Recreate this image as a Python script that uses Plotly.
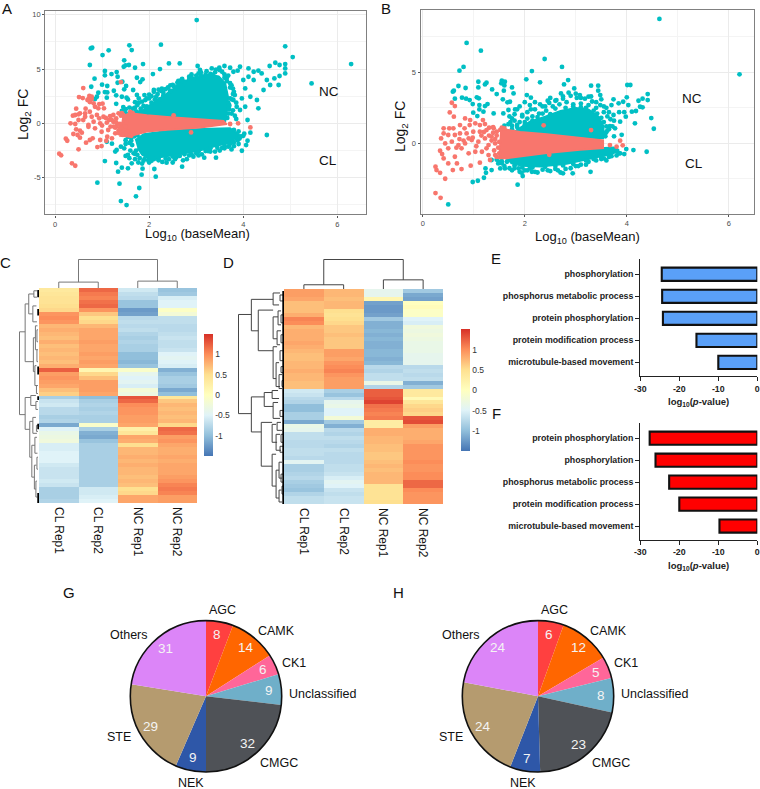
"""Multi-panel figure: MA plots, heatmaps, GO enrichment bars and kinase pies."""

import numpy as np
import plotly.graph_objects as go

W, H = 760, 789
FONT = "Liberation Sans, Arial, sans-serif"
TEAL = "#00BFC4"
SALMON = "#F8766D"

# panel A: dense regions (outlines) and the single points around them
a_teal_up_x = [1.50, 1.62, 1.85, 1.98, 2.16, 2.34, 2.55, 2.77, 3.01, 3.26, 3.48, 3.62, 3.68, 3.66, 3.62, 1.50]
a_teal_up_y = [0.70, 1.00, 1.20, 1.60, 2.10, 2.70, 3.30, 3.90, 4.25, 4.50, 4.35, 3.70, 2.45, 1.23, 0.15, 0.0]
a_teal_lo_x = [1.70, 1.88, 2.38, 3.09, 3.72, 3.92, 3.88, 3.65, 3.37, 3.09, 2.66, 2.30, 1.98, 1.85, 1.75]
a_teal_lo_y = [-1.53, -0.98, -0.67, -0.49, -0.43, -1.07, -1.40, -1.85, -2.15, -2.5, -2.85, -3.10, -3.25, -2.9, -2.3]
a_red_core_x = [1.56, 1.95, 2.38, 3.09, 3.58, 3.65, 3.09, 2.38, 1.95, 1.56, 1.38, 1.45]
a_red_core_y = [0.98, 0.77, 0.61, 0.37, 0.25, -0.09, -0.40, -0.61, -0.77, -1.23, -1.17, 0.77]
a_teal_x = [
    3.01, 0.76, 0.79, 1.01, 1.14, 1.58, 1.63, 2.25, 4.89, 5.05, 6.29, 5.45, 0.74, 1.47, 1.46, 1.50, 1.57, 1.70,
    1.87, 1.06, 1.06, 1.31, 1.20, 1.33, 0.84, 2.08, 2.23, 2.42, 2.65, 1.74, 1.86, 1.81, 1.33, 1.43, 1.00, 1.11,
    1.25, 0.77, 1.51, 1.66, 1.47, 1.06, 1.11, 1.30, 0.92, 0.89, 0.85, 1.10, 1.42, 1.52, 1.74, 1.95, 2.10, 2.27,
    2.52, 2.66, 3.03, 3.08, 3.33, 3.49, 3.60, 3.72, 3.93, 3.79, 3.88, 4.11, 4.22, 4.32, 4.39, 4.56, 4.68, 4.77,
    4.89, 4.89, 4.89, 4.77, 4.66, 4.57, 4.75, 4.50, 4.43, 4.29, 4.32, 4.15, 4.00, 4.04, 4.11, 4.22, 4.04, 3.93,
    4.09, 3.79, 3.86, 3.97, 1.06, 1.30, 1.34, 1.42, 1.55, 1.63, 0.90, 1.37, 1.40, 1.52, 1.72, 1.79, 1.84, 1.86,
    2.11, 2.14, 2.70, 3.42, 4.50, 3.97, 4.06, 4.15, 4.09, 1.10, 1.21, 1.40, 1.31, 1.28, 1.47, 1.50, 1.58, 1.60,
    1.64, 1.67, 1.70, 1.77, 1.50, 1.55, 2.00, 2.20, 2.37, 2.50, 2.55, 2.80, 2.94, 3.17, 3.05, 3.30, 3.50, 3.60,
    3.80, 3.90, 3.75, 1.30, 1.45, 1.55, 1.60, 1.75, 1.90, 2.00, 2.10, 2.25, 2.40, 2.60, 2.70, 2.90, 3.10, 3.50,
    3.65, 3.75, 3.80, 3.85, 3.75, 3.70,
    1.70, 1.78, 1.88, 1.92, 2.05, 2.12, 2.18, 2.30, 2.35, 2.45, 2.50, 2.60, 2.68, 2.75, 2.85, 2.95, 3.05, 3.15,
    3.22, 3.30, 3.42, 3.55, 3.60, 3.68, 3.72, 3.78, 3.82, 3.76, 3.70, 3.78, 3.82, 3.85,
    1.50, 1.58, 1.68, 1.72, 1.85, 1.90, 2.05, 2.15, 2.28, 2.42, 2.58, 2.72, 2.85, 3.00, 3.12, 3.25, 3.40, 3.55,
    3.68, 3.80, 3.92, 4.00, 3.85, 1.62, 1.75,
    1.42, 1.50, 1.58, 1.65, 1.50, 1.62, 1.72, 1.70, 1.82, 1.85, 1.78, 1.95, 2.05, 2.00, 2.15, 2.22, 2.30, 2.20,
    2.45, 2.55, 2.45, 2.65, 2.75, 2.85, 2.62, 2.90, 3.00, 3.10, 3.20, 3.35, 3.40, 3.60, 3.65, 3.72, 3.78, 3.72,
    3.68, 3.70, 3.68, 3.66,
    1.62, 1.70, 1.75, 1.80, 1.88, 1.98, 2.10, 2.20, 2.35, 2.50, 2.65, 2.75, 2.90, 3.05, 3.20, 3.30, 3.45, 3.60,
    3.72, 3.88, 3.95, 4.02, 3.90, 3.80, 3.70, 1.55,
]
a_teal_y = [
    9.51, 6.90, 6.96, 6.29, 6.72, 7.18, 6.75, 7.24, 7.09, 6.10, 5.46, 3.68, 5.37, 5.80, 5.21, 5.34, 5.37, 5.12,
    5.46, 4.82, 4.42, 4.72, 4.54, 4.29, 4.11, 4.54, 5.00, 5.52, 5.52, 4.20, 4.05, 3.80, 3.74, 3.83, 3.56, 3.44,
    3.00, 3.37, 3.44, 3.07, 3.13, 2.88, 2.85, 2.58, 2.82, 2.45, 2.24, 2.36, 2.45, 2.36, 2.61, 2.30, 3.07, 3.20,
    3.44, 3.68, 5.28, 4.91, 5.06, 5.12, 5.28, 5.12, 5.21, 4.75, 4.85, 5.06, 4.75, 4.85, 4.60, 5.28, 5.58, 5.37,
    5.46, 5.06, 4.60, 4.36, 4.14, 3.53, 3.53, 3.99, 3.07, 2.15, 1.38, 2.45, 3.99, 3.22, 4.29, 3.99, 1.53, 1.23,
    0.31, 2.15, 1.53, 2.30, -3.47, -3.65, -4.45, -4.08, -4.14, -3.68, -5.46, -5.55, -7.15, -7.52, -6.72, -5.95,
    -4.72, -4.17, -4.20, -4.91, -3.99, -3.16, -1.07, -2.52, -2.00, -0.86, -1.60, -1.69, -1.87, -2.15, -2.45,
    -2.60, -2.30, -3.00, -3.20, -2.50, -2.00, -2.76, -3.30, -3.60, -1.90, -2.90, -3.60, -3.40, -3.62, -3.60,
    -3.30, -3.30, -3.07, -3.16, -2.95, -2.60, -2.50, -2.30, -2.10, -1.90, -2.40, 1.80, 1.50, 2.20, 1.00, 1.70,
    2.60, 2.30, 2.90, 3.00, 3.30, 3.75, 4.10, 4.50, 4.70, 4.90, 4.20, 3.50, 2.90, 1.90, 0.90, 1.70,
    1.45, 1.90, 1.60, 2.15, 2.50, 2.20, 2.70, 2.55, 3.15, 2.95, 3.55, 3.40, 3.95, 3.60, 4.30, 4.05, 4.60, 4.25,
    4.80, 4.55, 4.95, 4.75, 4.50, 4.40, 3.70, 3.20, 2.60, 2.20, 1.60, 1.20, 0.70, 0.40,
    -1.55, -1.80, -1.20, -2.50, -3.70, -3.30, -3.45, -3.15, -3.55, -3.30, -3.10, -3.40, -2.95, -2.75, -2.85,
    -2.55, -2.60, -2.25, -2.15, -1.75, -1.40, -1.15, -1.00, -1.30, -2.90,
    1.15, 1.30, 1.45, 1.35, 0.95, 0.95, 1.10, 1.95, 1.35, 2.00, 2.30, 1.55, 1.90, 2.65, 2.45, 2.20, 2.85, 3.10,
    3.00, 3.20, 3.50, 3.60, 3.85, 4.05, 3.90, 4.25, 4.40, 4.40, 4.50, 4.45, 4.70, 4.20, 3.90, 3.30, 2.70, 2.30,
    1.90, 1.30, 0.90, 0.50,
    -1.60, -2.80, -1.10, -3.20, -3.45, -3.40, -3.30, -3.25, -3.25, -3.05, -3.00, -2.85, -2.85, -2.60, -2.55,
    -2.30, -2.25, -2.00, -1.85, -1.55, -1.20, -0.95, -0.75, -0.60, -2.05, -1.25,
]
a_red_x = [
    0.60, 0.51, 0.59, 0.73, 0.78, 0.71, 0.78, 0.69, 0.74, 0.82, 0.65, 0.45, 0.53, 0.38, 0.43, 0.50, 0.64, 0.74,
    0.85, 0.92, 0.94, 1.01, 1.04, 0.89, 0.78, 0.64, 0.94, 1.03, 1.17, 1.24, 1.35, 1.40, 1.45, 0.33, 0.43, 0.50,
    0.60, 0.71, 0.82, 0.96, 1.10, 1.24, 1.31, 1.38, 0.45, 0.53, 0.71, 0.85, 0.99, 1.13, 1.28, 1.35, 0.57, 0.53,
    0.39, 0.48, 0.66, 0.74, 0.80, 0.90, 0.99, 0.96, 1.09, 1.11, 1.21, 1.28, 0.23, 0.26, 0.50, 0.09, 0.13, 0.36,
    0.43, 1.40, 2.52, 2.89, 3.89, 4.15, 3.72,
    1.20, 1.25, 1.30, 1.38, 1.42, 1.48, 1.50, 1.52, 1.55, 1.60, 1.65, 1.62, 1.58, 1.50, 1.44, 1.36, 1.30, 1.18,
    1.15, 1.08, 1.00,
]
a_red_y = [
    3.25, 2.42, 2.33, 2.52, 2.45, 2.24, 2.24, 2.15, 1.96, 1.84, 1.35, 1.35, 0.92, 0.71, 0.77, 0.83, 0.92, 1.07,
    1.53, 1.38, 1.78, 1.81, 1.38, 0.77, 0.61, 0.61, 0.46, 0.61, 0.67, 0.77, 0.92, 0.71, 0.77, 0.0, -0.06, 0.31,
    0.31, -0.15, 0.15, 0.0, 0.06, 0.15, -0.25, -0.06, -0.55, -0.67, -0.31, -0.46, -0.77, -0.61, -0.40, -0.67,
    -0.86, -1.32, -0.98, -1.07, -1.78, -1.53, -1.38, -2.18, -2.09, -1.53, -1.60, -1.23, -1.38, -0.92, -1.41,
    -1.60, -2.39, -2.79, -2.94, -3.68, -3.90, 3.80, 0.74, -0.83, 0.0, -0.37, -0.06,
    0.35, -0.30, 0.45, -0.45, 0.95, 0.55, -0.30, 0.10, -0.75, 1.05, 0.95, -1.15, -1.10, -0.95, -1.05, -0.90, 0.10,
    -0.30, 0.30, 0.50, -0.20,
]

# panel B
b_teal_up_x = [1.60, 1.80, 1.90, 2.10, 2.40, 2.70, 3.00, 3.25, 3.45, 3.55, 3.54, 2.43]
b_teal_up_y = [0.70, 0.85, 1.10, 1.55, 1.90, 2.30, 2.50, 2.40, 1.90, 1.20, 0.35, 0.47]
b_teal_lo_x = [1.62, 1.91, 2.43, 3.08, 3.74, 3.85, 3.72, 3.35, 2.82, 2.30, 1.95, 1.72]
b_teal_lo_y = [-1.10, -0.75, -0.59, -0.40, -0.28, -0.47, -0.75, -1.05, -1.45, -1.65, -1.60, -1.40]
b_red_core_x = [1.52, 1.91, 2.43, 3.08, 3.54, 3.54, 3.08, 2.43, 1.91, 1.65, 1.48]
b_red_core_y = [1.06, 0.82, 0.66, 0.42, 0.23, -0.35, -0.47, -0.70, -0.94, -1.06, -1.06]
b_teal_x = [
    4.64, 6.21, 0.86, 1.14, 2.39, 0.80, 0.72, 2.14, 2.73, 2.03, 2.30, 2.85, 2.77, 1.09, 1.25, 1.22, 1.55, 1.61,
    1.54, 1.60, 1.75, 0.70, 0.84, 1.09, 0.61, 0.59, 1.36, 1.59, 1.45, 1.78, 2.97, 3.30, 3.44, 4.01, 4.07, 3.44,
    4.41, 2.04, 2.12, 2.71, 2.86, 3.08, 3.25, 3.48, 3.74, 4.00, 4.23, 4.31, 4.41, 3.93, 3.84, 4.03, 4.26, 4.31,
    4.18, 4.10, 4.48, 4.53, 4.16, 3.98, 3.87, 3.74, 3.67, 3.77, 0.63, 0.77, 0.85, 0.92, 0.98, 1.06, 1.10, 1.11,
    1.22, 1.27, 1.11, 1.19, 1.07, 0.99, 1.57, 1.66, 1.71, 1.39, 1.58, 1.68, 1.81, 1.75, 0.50, 0.98, 1.08, 1.20,
    1.24, 1.23, 1.86, 1.96, 1.94, 2.14, 1.88, 2.75, 2.94, 3.29, 4.39, 4.13, 3.99, 3.87, 1.48, 1.61, 1.35, 1.35,
    1.52, 1.85, 1.95, 2.10, 2.20, 2.40, 2.50, 2.60, 2.75, 3.00, 3.10, 3.30, 3.40, 3.55, 3.65, 3.75, 3.50, 3.70,
    3.85, 3.95, 3.60, 3.75, 3.90, 1.55, 1.75, 2.05, 2.20, 2.50, 2.65, 2.90, 3.05, 3.20, 3.50, 3.65, 3.80, 3.95,
    1.75, 1.80, 1.85, 1.95, 2.00, 2.05, 2.15, 2.20, 2.28, 2.35, 2.42, 2.48, 2.55, 2.62, 2.68, 2.75, 2.82, 2.90,
    2.95, 3.02, 3.10, 3.18, 3.25, 3.32, 3.40, 3.48, 3.55, 3.60, 3.62, 3.68, 3.72, 3.65, 3.58, 1.72, 1.70, 1.80,
    1.90, 2.00, 2.12, 2.30, 2.45,
    1.45, 1.50, 1.60, 1.70, 1.80, 1.90, 2.00, 2.10, 2.25, 2.35, 2.45, 2.60, 2.70, 2.80, 3.00, 3.10, 3.25, 3.40,
    3.55, 3.70, 3.85, 3.60, 3.80,
    1.60, 1.68, 1.75, 1.85, 1.90, 2.00, 2.05, 2.15, 2.25, 2.35, 2.50, 2.60, 2.80, 2.95, 3.10, 3.20, 3.35, 3.42,
    3.50, 3.55, 3.60, 3.62, 3.58,
    1.55, 1.65, 1.80, 1.95, 2.15, 2.40, 2.60, 2.75, 2.95, 3.20, 3.35, 3.50, 3.65, 3.80,
]
b_teal_y = [
    8.76, 4.86, 7.07, 6.53, 5.94, 5.38, 5.12, 5.09, 5.38, 4.51, 4.30, 4.46, 4.15, 4.34, 4.27, 4.15, 4.41, 4.34,
    4.23, 4.08, 3.94, 4.04, 3.90, 3.94, 3.71, 3.64, 3.80, 3.71, 3.47, 3.52, 3.87, 4.06, 4.06, 4.11, 4.11, 3.71,
    3.47, 3.40, 3.22, 3.52, 3.57, 3.40, 3.29, 3.40, 3.10, 3.24, 3.00, 3.15, 3.05, 2.93, 2.82, 2.70, 2.58, 2.54,
    2.28, 2.23, 1.78, 1.03, 1.41, 1.88, 1.53, 2.00, 1.22, 1.06, 3.15, 3.22, 3.15, 3.05, 2.77, 3.24, 3.17, 2.70,
    2.63, 2.77, 2.39, 2.23, 1.92, 2.16, 3.10, 2.89, 2.93, 2.11, 2.11, 2.35, 2.39, 1.76, -4.30, -2.72, -2.63,
    -2.42, -2.07, -1.76, -2.91, -2.30, -2.07, -2.00, -1.76, -2.11, -2.11, -2.00, -0.59, -0.47, -0.40, -0.70,
    -1.41, -1.76, -1.88, -1.17, -1.76, 2.40, 2.00, 2.70, 2.90, 2.60, 3.20, 3.00, 3.30, 3.50, 3.20, 3.30, 2.90,
    2.60, 2.20, 1.60, 3.10, 2.70, 2.20, 2.20, 0.80, 0.50, 0.60, -1.40, -1.90, -1.90, -2.00, -1.95, -1.90, -1.75,
    -1.60, -1.50, -1.10, -0.95, -0.85, -0.75,
    1.00, 1.60, 1.30, 1.90, 1.50, 2.20, 1.90, 2.40, 2.10, 2.60, 2.30, 2.85, 2.60, 3.05, 2.75, 3.15, 2.90, 3.35,
    2.75, 3.20, 2.80, 3.15, 2.70, 2.95, 2.50, 2.70, 2.20, 2.50, 1.90, 1.70, 1.20, 1.00, 0.70, 1.50, 1.90, 2.05,
    2.60, 2.90, 2.40, 2.75, 3.00,
    -1.15, -1.30, -1.60, -1.75, -1.55, -2.00, -1.90, -1.75, -2.05, -1.85, -1.90, -1.80, -2.05, -1.80, -1.60,
    -1.50, -1.30, -1.20, -1.05, -0.90, -0.70, -1.20, -0.55,
    1.25, 1.35, 1.25, 1.15, 1.50, 1.30, 1.75, 1.60, 1.85, 2.10, 2.05, 2.45, 2.50, 2.60, 2.55, 2.50, 2.30, 2.10,
    1.80, 1.50, 1.20, 0.90, 0.50,
    -1.25, -1.30, -1.75, -1.70, -1.70, -1.65, -1.60, -1.55, -1.45, -1.20, -1.10, -0.95, -0.75, -0.50,
]
b_red_x = [
    0.57, 0.63, 0.53, 0.83, 0.93, 1.18, 0.61, 0.73, 0.82, 0.92, 1.03, 1.12, 1.22, 0.60, 0.52, 0.41, 0.36, 0.41,
    0.50, 0.63, 0.73, 0.86, 0.99, 1.12, 1.25, 1.39, 1.45, 0.44, 0.57, 0.70, 0.83, 0.96, 1.09, 1.22, 1.35, 1.42,
    1.29, 0.34, 0.38, 0.50, 0.63, 0.76, 0.90, 1.03, 1.16, 1.29, 1.42, 0.41, 0.50, 0.67, 0.94, 1.12, 1.32, 0.25,
    0.27, 0.34, 0.44, 0.25, 0.35, 0.59, 0.76, 2.37, 3.30, 2.48, 3.87, 3.92, 3.80, 3.67,
    1.38, 1.42, 1.45, 1.48, 1.50, 1.52, 1.40, 1.35, 1.30, 1.25, 1.45, 1.50, 1.38, 1.30, 1.20, 1.15, 1.05, 0.98,
    0.90, 0.80, 0.72, 0.66, 1.55, 1.60,
]
b_red_y = [
    2.86, 2.63, 2.18, 1.76, 1.64, 1.64, 1.88, 1.29, 1.06, 1.29, 1.41, 1.29, 1.36, 1.06, 1.06, 1.06, 0.35, 0.70,
    0.59, 0.59, 0.70, 0.70, 0.82, 0.82, 0.94, 1.06, 0.82, 0.0, 0.12, -0.12, 0.0, 0.23, 0.12, 0.35, 0.47, 0.0,
    -0.12, -0.52, -0.75, -0.35, -0.94, -0.35, -0.70, -0.59, -0.59, -0.82, -0.82, -1.06, -1.41, -1.41, -1.57,
    -1.36, -1.17, -1.64, -1.88, -2.07, -2.49, -3.50, -3.83, -1.88, -1.81, 1.27, 0.94, -0.80, 0.19, -0.14, -0.23,
    -0.12,
    0.75, 0.30, 0.55, -0.30, -0.70, 0.95, -0.50, 0.20, 0.55, -0.35, -0.95, 0.10, 1.15, 1.10, 0.80, 0.55, -0.20,
    0.40, 0.35, 0.20, 0.30, -0.30, 1.10, 1.05,
]

# heatmaps: one list per sample, rows top to bottom
samples = ["CL Rep1", "CL Rep2", "NC Rep1", "NC Rep2"]
c_cl1 = [.35, .4, .45, .45, .5, .55, .95, 1.0, .95, .75, .8, .75, .7, .8, .7, .75, .7, .75, .7, .8, 1.25, .9, .95, .9, .85, .7, .6,
         -.85, -.65, -.6, -.75, -.75, -.85, -.8, -1.15, -.5, -.35, -.3, -.25, -.55, -.55, -.5, -.5, -.5, -.6, -.65, -.65, -.65, -.6, -.65, -.85, -.85, -.85, -.8]
c_cl2 = [1.2, 1.1, 1.05, 1.15, 1.2, .95, .65, .5, .55, .75, .85, .85, .85, .9, .85, .85, .9, .85, .9, .85, .15, .55, .7, .9, .9, .9, .85,
         -1.0, -.85, -.8, -.85, -.8, -.85, -.85, -.1, -.85, -1.1, -1.15, -.95, -.85, -.85, -.85, -.85, -.85, -.85, -.85, -.85, -.85, -.85, -.85, -.6, -.6, -.55, -.5]
c_nc1 = [-.6, -.7, -.75, -.95, -.95, -1.25, -1.2, -.75, -.7, -.75, -.7, -.8, -.85, -.8, -.85, -.85, -1.0, -1.0, -1.05, -.95, -.1, -.4, -.5, -.45, -.55, -.2, -.3,
         1.3, 1.2, 1.0, .95, .95, .9, .9, .85, .25, .4, .85, .8, .5, .75, .75, .8, .75, .8, .75, .75, .7, .75, .7, .5, .55, .85, .85]
c_nc2 = [-.95, -.9, -.55, -.5, -.5, -.05, -.2, -.7, -.7, -.75, -.75, -.7, -.65, -.7, -.7, -.65, -.5, -.45, -.5, -.55, -1.1, -.95, -.85, -.85, -.9, -1.15, -1.0,
         .4, .65, .75, .7, .75, .7, .75, .55, 1.2, 1.15, .9, .95, .85, .8, .8, .85, .8, .85, .85, .85, .9, .95, 1.05, 1.1, 1.05, .9, .9]
d_cl1 = [.9, .9, .85, .7, .7, .7, .8, 1.05, 1.0, .75, .8, .8, .8, .85, .8, .75, .7, .7, .75, .75, .8, .75, .75, .7, .7,
         -.6, -.65, -.75, -.8, -1.0, -1.0, -.85, -.85, -1.15, -.35, -.4, -.7, -.7, -.75, -.75, -.7, -.7, -.75, -.45, -.85, -.85, -.8, -.75, -.85, -.9, -.95, -.8, -.7, -.7]
d_cl2 = [.75, .75, .7, .75, .75, .5, .45, .5, .55, .65, .65, .7, .65, .65, .65, .9, .9, .85, .95, 1.0, 1.05, .95, .9, .9, .9,
         -.85, -.95, -.75, -.4, -.35, -.5, -.5, -.2, -.9, -1.1, -.75, -.8, -.7, -.75, -.8, -.7, -.75, -.75, -.75, -.7, -.7, -.65, -.55, -.45, -.5, -.65, -.7, -.65, -.65]
d_nc1 = [-.4, -.4, .15, -1.2, -1.25, -1.25, -1.2, -.9, -1.1, -1.1, -1.05, -1.1, -1.05, -1.1, -1.1, -1.05, -1.05, -1.1, -1.05, -.75, -.8, -.7, -.7, -.35, -.8,
         1.25, 1.25, 1.3, 1.4, 1.15, 1.1, 1.05, 1.1, .3, .3, .8, .8, .75, .75, .7, .7, .65, .65, .7, .75, .7, .75, .75, .75, .45, .45, .45, .45, .5]
d_nc2 = [-.9, -1.15, -1.2, 0.0, .05, -.05, -.05, -.5, -.55, -.25, -.3, -.25, -.3, -.35, -.35, -.35, -.4, -.4, -.4, -.75, -.7, -.75, -.7, -1.1, -.9,
         .35, .35, .1, .4, .55, .6, .55, 1.3, 1.35, .9, .8, .8, .8, .85, .95, .95, .95, .95, 1.0, .95, .95, 1.0, 1.0, 1.2, 1.2, 1.0, .95, .95, .95]

# row dendrograms: (height, top row, bottom row, top child height, bottom child height)
c_tree = [
    (19, 10.5, 31.3, 13.5, 13.5), (13.5, 3.5, 18, 10, 5.5), (13.5, 27, 35, 8, 9), (10, 1, 6, 5, 6), (5, .2, 1.8, 2, 2),
    (6, 4, 8, 2.5, 2), (5.5, 12, 20.5, 3.5, 4), (3.5, 9, 15, 1.5, 2), (4, 19, 24, 2.5, 2), (8, 26.5, 29, 3, 3),
    (9, 33, 42, 6, 7), (6, 32, 36, 3, 2), (7, 39, 47, 4, 4.5), (4.5, 44, 50, 2.5, 3), (3, 48, 52, 2, 1.5), (4, 37, 41, 2, 1.5),
    (2.5, 24, 26, 1, 1), (2, 15, 18, 1, 1), (2, 10, 13, 1, 1), (3, 28, 30, 1, 1), (2.5, 34, 35.5, 1, 1), (2, 42, 45, 1, 1),
]
d_tree = [
    (46, 5.9, 30.8, 33, 33), (33, 2.1, 10, 11, 26), (33, 26.6, 35.4, 20, 23), (11, .5, 3.5, 4, 5), (26, 4.8, 15, 11, 11),
    (11, 6.5, 12, 6, 7), (11, 14, 22, 7, 8), (7, 10, 13.5, 3, 4), (8, 18, 24, 5, 4), (6, 5, 8.5, 3, 3), (5, 21, 24.5, 2, 2),
    (20, 25.5, 29, 12, 11), (12, 25, 27, 6, 5), (11, 28, 32, 6, 4), (23, 33, 44, 12, 12), (12, 33.5, 38, 8, 7), (12, 41, 49, 8, 8),
    (8, 36, 40, 4, 3), (8, 45, 52, 5, 5), (5, 50, 53, 2.5, 2), (5, 43, 47, 2, 2), (7, 33, 35, 3, 2),
    (4, 1, 2.5, 1, 1), (3, 6, 8, 1, 1), (3, 11, 13, 1, 1), (4, 15, 17.5, 1, 1), (3, 19, 20.5, 1, 1), (2, 22.5, 24, 1, 1),
    (4, 30, 31.5, 1, 1), (3, 36, 38, 1, 1), (4, 39, 40.5, 1, 1), (3, 46, 48, 1, 1), (2, 49, 51, 1, 1),
]
# black bands of tightly packed leaves next to the heatmap (top row, bottom row)
c_leaf_bands = [(0, 1.8), (4.8, 6.4), (19.2, 21.2), (26.7, 27.6), (33.6, 35), (51, 53.5)]
d_leaf_bands = [(0, 53.5)]

# enrichment bars
e_terms = ["phosphorylation", "phosphorus metabolic process", "protein phosphorylation", "protein modification process", "microtubule-based movement"]
e_values = [-24.5, -24.4, -24.2, -15.6, -10.0]
f_terms = ["protein phosphorylation", "phosphorylation", "phosphorus metabolic process", "protein modification process", "microtubule-based movement"]
f_values = [-27.6, -26.1, -22.6, -20.0, -9.7]

# kinase family pies
families = ["AGC", "CAMK", "CK1", "Unclassified", "CMGC", "NEK", "STE", "Others"]
family_colors = ["#FF4040", "#FF6600", "#FF6699", "#6FAFC9", "#4F5257", "#2E57A8", "#B59B6F", "#DC85F8"]
g_counts = [8, 14, 6, 9, 32, 9, 29, 31]
h_counts = [6, 12, 5, 8, 23, 7, 24, 24]

HEAT_SCALE = [
    [0, "#4575B4"], [1 / 6, "#91BFDB"], [2 / 6, "#E0F3F8"], [0.5, "#FFFFBF"],
    [4 / 6, "#FEE090"], [5 / 6, "#FC8D59"], [1, "#D73027"],
]


def dom_x(p0, p1):
    return [p0 / W, p1 / W]


def dom_y(p0, p1):
    return [1 - p1 / H, 1 - p0 / H]


def label(text, x, y, size=13, color="#111", angle=0, anchor="center"):
    return dict(
        text=text, x=x / W, y=1 - y / H, xref="paper", yref="paper", showarrow=False,
        xanchor=anchor, yanchor="middle", textangle=angle, font=dict(size=size, color=color, family=FONT),
    )


def ma_axis(domain, rng, ticks, minor, anchor):
    return dict(
        domain=domain, range=rng, anchor=anchor, tickvals=ticks, ticktext=[str(t) for t in ticks], showgrid=True,
        gridcolor="#EBEBEB", gridwidth=1, minor=dict(dtick=minor, showgrid=True, gridcolor="#F4F4F4", gridwidth=0.7),
        zeroline=False, showline=True, mirror=True, linecolor="#808080", linewidth=1.4, ticks="outside", ticklen=2,
        tickwidth=0.7, tickcolor="#555", tickfont=dict(size=7.5, color="#4D4D4D", family=FONT),
    )


def add_ma(fig, xa, ya, up, lo, core, teal, red):
    for poly, color in ((up, TEAL), (lo, TEAL)):
        fig.add_trace(go.Scatter(x=poly[0], y=poly[1], xaxis=xa, yaxis=ya, mode="lines", fill="toself",
                                 fillcolor=color, line=dict(width=1.5, color=color)))
    fig.add_trace(go.Scatter(x=teal[0], y=teal[1], xaxis=xa, yaxis=ya, mode="markers",
                             marker=dict(size=4.8, color=TEAL, line=dict(width=0))))
    fig.add_trace(go.Scatter(x=core[0], y=core[1], xaxis=xa, yaxis=ya, mode="lines", fill="toself",
                             fillcolor=SALMON, line=dict(width=1.5, color=SALMON)))
    fig.add_trace(go.Scatter(x=red[0], y=red[1], xaxis=xa, yaxis=ya, mode="markers",
                             marker=dict(size=4.8, color=SALMON, line=dict(width=0))))


def add_heat(fig, n, columns, tree, bands, col_tree, color, cbar_x, cbar_top, cbar_len):
    """n is the first of three axis numbers: heatmap, column tree, row tree."""
    fig.add_trace(go.Heatmap(
        z=np.array(columns).T, x=[0, 1, 2, 3], xaxis=f"x{n}", yaxis=f"y{n}", zmin=-1.5, zmax=1.5, colorscale=HEAT_SCALE,
        colorbar=dict(
            x=cbar_x / W, xanchor="left", xpad=0, ypad=0, y=1 - cbar_top / H, yanchor="top", len=cbar_len / H, thickness=9,
            outlinewidth=0, tickvals=[1, .5, 0, -.5, -1], ticktext=["1", "0.5", "0", "-0.5", "-1"], ticks="",
            tickfont=dict(size=8.5, color="#333", family=FONT),
        ),
    ))
    # column tree
    cx, cy = [], []
    for x0, x1, h, h0, h1 in col_tree:
        cx += [x0, x0, x1, x1, None]
        cy += [h0, h, h, h1, None]
    fig.add_trace(go.Scatter(x=cx, y=cy, xaxis=f"x{n + 1}", yaxis=f"y{n + 1}", mode="lines", line=dict(color=color, width=1)))
    # row tree
    rx, ry = [], []
    for h, top, bot, h_top, h_bot in tree:
        rx += [h_top, h, h, h_bot, None]
        ry += [top, top, bot, bot, None]
    fig.add_trace(go.Scatter(x=rx, y=ry, xaxis=f"x{n + 2}", yaxis=f"y{n + 2}", mode="lines", line=dict(color=color, width=1)))
    lx, ly = [], []
    for top, bot in bands:
        lx += [0.8, 0.8, None]
        ly += [top, bot, None]
    fig.add_trace(go.Scatter(x=lx, y=ly, xaxis=f"x{n + 2}", yaxis=f"y{n + 2}", mode="lines", line=dict(color="#000", width=1.8)))


def heat_axes(n, hx, hy, col_top, row_left, col_height, row_width):
    axes = {}
    off = dict(showgrid=False, zeroline=False, showticklabels=False, ticks="", showline=False)
    axes[f"xaxis{n}"] = dict(
        domain=dom_x(*hx), anchor=f"y{n}", range=[-.5, 3.5], tickvals=[0, 1, 2, 3], ticktext=samples, tickangle=90,
        ticks="", ticklabelstandoff=3, showgrid=False, zeroline=False, tickfont=dict(size=12, color="#111", family=FONT),
    )
    axes[f"yaxis{n}"] = dict(domain=dom_y(*hy), anchor=f"x{n}", range=[53.5, -.5], **off)
    axes[f"xaxis{n + 1}"] = dict(domain=dom_x(*hx), anchor=f"y{n + 1}", range=[-.5, 3.5], **off)
    axes[f"yaxis{n + 1}"] = dict(domain=dom_y(col_top, hy[0]), anchor=f"x{n + 1}", range=[0, col_height], **off)
    axes[f"xaxis{n + 2}"] = dict(domain=dom_x(row_left, hx[0]), anchor=f"y{n + 2}", range=[row_width, 0], **off)
    axes[f"yaxis{n + 2}"] = dict(domain=dom_y(*hy), anchor=f"x{n + 2}", range=[53.5, -.5], **off)
    return axes


def bar_axes(n, y_top, y_bottom, terms):
    tick_font = dict(size=8.8, color="#222", family=FONT, weight=700)
    return {
        f"xaxis{n}": dict(domain=dom_x(640.3, 757.3), anchor=f"y{n}", range=[-30, 0], tickvals=[-30, -20, -10, 0],
                          ticktext=["-30", "-20", "-10", "0"], showgrid=False, zeroline=False, showline=True,
                          linecolor="#222", linewidth=1.3, ticks="outside", ticklen=4, tickwidth=1.3, tickcolor="#222",
                          tickfont=tick_font),
        f"yaxis{n}": dict(domain=dom_y(y_top, y_bottom), anchor=f"x{n}", type="category", categoryorder="array",
                          categoryarray=terms, range=[4.62, -0.68], showgrid=False, zeroline=False, showline=True,
                          linecolor="#222", linewidth=1.3, ticks="outside", ticklen=4, tickwidth=1.3, tickcolor="#222",
                          tickfont=tick_font),
    }


def pie_labels(counts, cx, cy, radius):
    # value labels sit at 83% of the radius, on the middle of each slice
    ann = []
    mids = (np.cumsum(counts) - np.array(counts) / 2) / sum(counts) * 2 * np.pi
    for v, a in zip(counts, mids):
        ann.append(label(str(v), cx + 0.83 * radius * np.sin(a), cy - 0.83 * radius * np.cos(a), size=13.5, color="#F4F4F4"))
    return ann


fig = go.Figure()
add_ma(fig, "x", "y", (a_teal_up_x, a_teal_up_y), (a_teal_lo_x, a_teal_lo_y), (a_red_core_x, a_red_core_y),
       (a_teal_x, a_teal_y), (a_red_x, a_red_y))
add_ma(fig, "x2", "y2", (b_teal_up_x, b_teal_up_y), (b_teal_lo_x, b_teal_lo_y), (b_red_core_x, b_red_core_y),
       (b_teal_x, b_teal_y), (b_red_x, b_red_y))

c_col_tree = [(0, 1, 6, 0, 0), (2, 3, 7, 0, 0), (.5, 2.5, 29, 6, 7)]
d_col_tree = [(0, 1, 4.3, 0, 0), (2, 3, 9.3, 0, 0), (.5, 2.5, 30, 4.3, 9.3)]
add_heat(fig, 3, [c_cl1, c_cl2, c_nc1, c_nc2], c_tree, c_leaf_bands, c_col_tree, "#777", 204, 334, 122)
add_heat(fig, 6, [d_cl1, d_cl2, d_nc1, d_nc2], d_tree, d_leaf_bands, d_col_tree, "#444", 461, 329.3, 122)

fig.add_trace(go.Bar(x=e_values, y=e_terms, orientation="h", xaxis="x9", yaxis="y9", width=0.6, cliponaxis=False,
                     marker=dict(color="#5AA0F8", line=dict(color="#111", width=2.1))))
fig.add_trace(go.Bar(x=f_values, y=f_terms, orientation="h", xaxis="x10", yaxis="y10", width=0.6, cliponaxis=False,
                     marker=dict(color="#FF0000", line=dict(color="#111", width=2.1))))

R = 75.7
PIE_Y = 696.3
for counts, cx in ((g_counts, 206), (h_counts, 538)):
    fig.add_trace(go.Pie(
        values=counts, labels=families, sort=False, direction="clockwise", rotation=0, textinfo="none",
        marker=dict(colors=family_colors, line=dict(width=0)), domain=dict(x=dom_x(cx - R, cx + R), y=dom_y(PIE_Y - R, PIE_Y + R)),
    ))

annotations = [
    label("A", 7, 8, 15), label("B", 386, 8, 15), label("C", 5, 262, 15), label("D", 228, 262, 15),
    label("E", 496, 259, 15), label("F", 496, 413, 15), label("G", 69, 592, 15), label("H", 398, 592, 15),
    label("NC", 329, 91, 13.5), label("CL", 328, 161, 13.5), label("NC", 691.7, 99, 13.5), label("CL", 693.7, 164, 13.5),
    label("Log<sub>10</sub> (baseMean)", 198, 234.5, 13), label("Log<sub>10</sub> (baseMean)", 587, 237, 13),
    label("Log<sub>2</sub> FC", 24, 115, 14, angle=-90), label("Log<sub>2</sub> FC", 401, 127, 14, angle=-90),
    label("<b>log<sub>10</sub>(<i>p</i>-value)</b>", 698, 402, 9.5, "#222"), label("<b>log<sub>10</sub>(<i>p</i>-value)</b>", 698, 566, 9.5, "#222"),
]
g_pos = [(222.7, 610), (276, 631), (293.7, 663.3), (322, 694.3), (279.3, 762.7), (190.7, 783), (119.3, 737), (129.3, 635)]
h_pos = [(554.7, 610), (608, 631), (625.7, 663.3), (654, 694.3), (611.3, 762.7), (522.7, 783), (451.3, 737), (461.3, 635)]
for name, (x, y) in zip(families, g_pos):
    annotations.append(label(name, x, y, 12.5))
for name, (x, y) in zip(families, h_pos):
    annotations.append(label(name, x, y, 12.5))
annotations += pie_labels(g_counts, 206, PIE_Y, R) + pie_labels(h_counts, 538, PIE_Y, R)

shapes = [
    dict(type="circle", xref="paper", yref="paper", x0=(cx - R) / W, x1=(cx + R) / W, y0=1 - (PIE_Y + R) / H, y1=1 - (PIE_Y - R) / H,
         line=dict(color="#111", width=1.6), fillcolor="rgba(0,0,0,0)")
    for cx in (206, 538)
]

layout = dict(
    template="none", width=W, height=H, margin=dict(l=0, r=0, t=0, b=0), autosize=False, paper_bgcolor="white",
    plot_bgcolor="white", showlegend=False, font=dict(family=FONT), annotations=annotations, shapes=shapes, bargap=0.4,
    xaxis=ma_axis(dom_x(45.3, 365.7), [-0.206, 6.60], [0, 2, 4, 6], 1, "y"),
    yaxis=ma_axis(dom_y(10.7, 214.3), [-8.37, 10.37], [-5, 0, 5, 10], 2.5, "x"),
    xaxis2=ma_axis(dom_x(420.7, 754.3), [-0.04, 6.50], [0, 2, 4, 6], 1, "y2"),
    yaxis2=ma_axis(dom_y(10, 213.7), [-4.95, 9.39], [0, 5], 2.5, "x2"),
)
layout.update(heat_axes(3, (39, 197), (288, 503), 259, 19, 29.5, 19.5))
layout.update(heat_axes(6, (284, 443), (289, 504), 259, 238, 30.5, 46.5))
layout.update(bar_axes(9, 259.3, 376, e_terms))
layout.update(bar_axes(10, 423.3, 539.7, f_terms))
fig.update_layout(**layout)

fig.write_html("out.html", config={"displayModeBar": False}, post_script="document.body.style.margin='0';")
